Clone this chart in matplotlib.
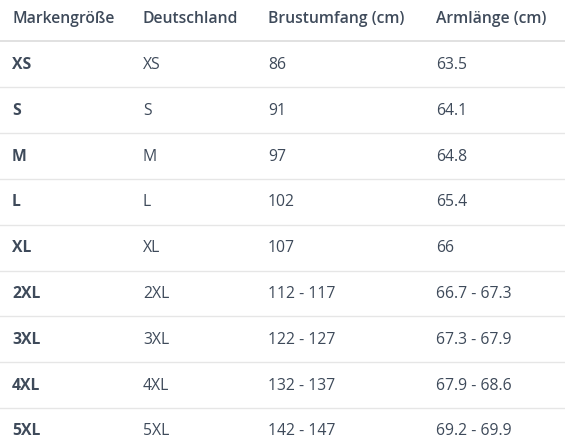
import matplotlib
matplotlib.use("Agg")
import matplotlib.pyplot as plt

headers = ["Markengröße", "Deutschland", "Brustumfang (cm)", "Armlänge (cm)"]
brand = ["XS", "S", "M", "L", "XL", "2XL", "3XL", "4XL", "5XL"]
germany = ["XS", "S", "M", "L", "XL", "2XL", "3XL", "4XL", "5XL"]
chest = ["86", "91", "97", "102", "107", "112 - 117", "122 - 127", "132 - 137", "142 - 147"]
arm = ["63.5", "64.1", "64.8", "65.4", "66", "66.7 - 67.3", "67.3 - 67.9", "67.9 - 68.6", "69.2 - 69.9"]

W, H = 565, 448
fig = plt.figure(figsize=(W/100, H/100), dpi=100)
ax = fig.add_axes([0, 0, 1, 1])
ax.set_xlim(0, W); ax.set_ylim(H, 0); ax.axis("off")

col_x = [12, 143, 268, 436]
color = "#3e4a5a"
fam = ["Open Sans", "DejaVu Sans"]
fs = 11.3
for x, h in zip(col_x, headers):
    ax.text(x, 19, h, fontsize=fs, color=color, fontweight="semibold", va="center", family=fam)
row0, step = 65, 45.8
ax.plot([0, W], [41, 41], color="#dcdcdc", lw=1.2)
cols = [brand, germany, chest, arm]
for i in range(len(brand)):
    y = row0 + i*step
    for j, (x, c) in enumerate(zip(col_x, cols)):
        ax.text(x, y, c[i], fontsize=fs, color=color, va="center", family=fam,
                fontweight="bold" if j == 0 else "normal")
    if i < len(brand)-1:
        ax.plot([0, W], [y+22.5, y+22.5], color="#e6e6e6", lw=1)
fig.savefig("out.png", dpi=100)
